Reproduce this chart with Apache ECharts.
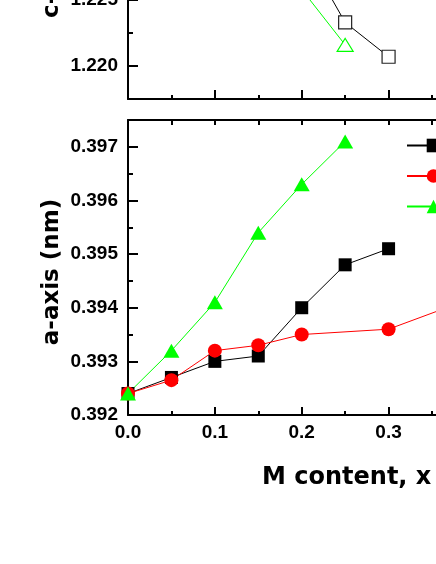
<!DOCTYPE html>
<html>
<head>
<meta charset="utf-8">
<script src="https://cdn.jsdelivr.net/npm/echarts@6/dist/echarts.min.js"></script>
<style>
  html, body { margin: 0; padding: 0; background: #fff; }
  #container { width: 436px; height: 564px; }
</style>
</head>
<body>
<div id="container"></div>
<script>
var dom = document.getElementById("container");
var myChart = echarts.init(dom);

// ---- data ----
// lower panel: a-axis (nm) vs M content
var xBlack = [0, 0.05, 0.1, 0.15, 0.2, 0.25, 0.3];
var aBlack = [0.3924, 0.3927, 0.3930, 0.3931, 0.3940, 0.3948, 0.3951];
var xRed = [0, 0.05, 0.1, 0.15, 0.2, 0.3, 0.4];
var aRed = [0.3924, 0.39265, 0.3932, 0.3933, 0.3935, 0.3936, 0.3942];
var xGreen = [0, 0.05, 0.1, 0.15, 0.2, 0.25];
var aGreen = [0.3924, 0.3932, 0.3941, 0.3954, 0.3963, 0.3971];

// upper panel: c-axis (nm), only the bottom of it is in view
var xTopBlack = [0.2, 0.25, 0.3];
var cBlack = [1.2291, 1.2233, 1.2207];
var xTopGreen = [0.2, 0.25];
var cGreen = [1.2258, 1.2216];

var names = ['M1', 'M2', 'M3'];

// ticks
var xMajor = [0, 0.1, 0.2, 0.3];
var xMinor = [0.05, 0.15, 0.25, 0.35];
var xAll = [0, 0.05, 0.1, 0.15, 0.2, 0.25, 0.3, 0.35];
var aMajor = [0.392, 0.393, 0.394, 0.395, 0.396, 0.397];
var aMinor = [0.3925, 0.3935, 0.3945, 0.3955, 0.3965];
var cMajor = [1.220, 1.225];
var cMinor = [1.2225];

var LABEL_FONT = 'Liberation Sans, Arial, sans-serif';
var TITLE_FONT = 'DejaVu Sans, sans-serif';

function zip(xs, ys) {
    return xs.map(function (x, i) { return [x, ys[i]]; });
}

function axis(grid, pos, min, max, ticks, len, showLine, labels, fmt) {
    return {
        type: 'value',
        gridIndex: grid,
        position: pos,
        min: min,
        max: max,
        axisLine: { show: showLine, onZero: false, lineStyle: { color: '#000', width: 2 } },
        axisTick: { show: true, inside: true, length: len, customValues: ticks,
                    lineStyle: { color: '#000', width: 2 } },
        axisLabel: labels ? {
            show: true, customValues: labels, formatter: fmt, margin: pos === 'left' ? 10 : 8,
            color: '#000', fontFamily: LABEL_FONT, fontWeight: 'bold', fontSize: 19
        } : { show: false },
        splitLine: { show: false }
    };
}

var X_MAX = 0.3546;
function fx(v) { return v.toFixed(1); }
function fy(v) { return v.toFixed(3); }

option = {
    animation: false,
    grid: [
        { left: 128, right: 0, top: 0, height: 99, outerBoundsMode: 'none' },
        { left: 128, right: 0, top: 120, height: 295, outerBoundsMode: 'none' }
    ],
    xAxis: [
        axis(0, 'bottom', 0, X_MAX, xMajor, 9, true),
        axis(0, 'bottom', 0, X_MAX, xMinor, 4, false),
        axis(1, 'bottom', 0, X_MAX, xMajor, 8, true, xMajor, fx),
        axis(1, 'bottom', 0, X_MAX, xMinor, 4, false),
        axis(1, 'top', 0, X_MAX, xAll, 5, true)
    ],
    yAxis: [
        axis(0, 'left', 1.2175, 1.225, cMajor, 10, true, cMajor, fy),
        axis(0, 'left', 1.2175, 1.225, cMinor, 5, false),
        axis(1, 'left', 0.392, 0.3975, aMajor, 10, true, aMajor, fy),
        axis(1, 'left', 0.392, 0.3975, aMinor, 5, false)
    ],
    legend: {
        data: names,
        orient: 'vertical',
        left: 401,
        top: 131,
        itemWidth: 53,
        itemHeight: 17,
        itemGap: 11.5,
        textStyle: { color: '#000', fontFamily: LABEL_FONT, fontWeight: 'bold', fontSize: 19 }
    },
    graphic: [
        { type: 'text', x: 52, y: 272, rotation: Math.PI / 2,
          style: { text: 'a-axis (nm)', font: 'bold 23px ' + TITLE_FONT, fill: '#000',
                   align: 'center', verticalAlign: 'middle', textAlign: 'center', textVerticalAlign: 'middle' } },
        { type: 'text', x: 52, y: 18, rotation: Math.PI / 2,
          style: { text: 'c-axis (nm)', font: 'bold 23px ' + TITLE_FONT, fill: '#000',
                   align: 'left', verticalAlign: 'middle', textAlign: 'left', textVerticalAlign: 'middle' } },
        { type: 'text', x: 262, y: 478,
          style: { text: 'M content, x', font: 'bold 24px ' + TITLE_FONT, fill: '#000',
                   align: 'left', verticalAlign: 'middle', textAlign: 'left', textVerticalAlign: 'middle' } }
    ],
    series: [
        {
            name: 'c-black', type: 'line', xAxisIndex: 0, yAxisIndex: 0,
            data: zip(xTopBlack, cBlack),
            symbol: 'rect', symbolSize: 13,
            lineStyle: { color: '#000', width: 1 },
            itemStyle: { color: '#fff', borderColor: '#222', borderWidth: 1.2 }
        },
        {
            name: 'c-green', type: 'line', xAxisIndex: 0, yAxisIndex: 0,
            data: zip(xTopGreen, cGreen),
            symbol: 'triangle', symbolSize: [16, 13],
            lineStyle: { color: '#00ff00', width: 1 },
            itemStyle: { color: '#fff', borderColor: '#00ff00', borderWidth: 1.2 }
        },
        {
            name: names[0], type: 'line', xAxisIndex: 2, yAxisIndex: 2,
            data: zip(xBlack, aBlack),
            symbol: 'rect', symbolSize: 13,
            lineStyle: { color: '#000', width: 1 },
            itemStyle: { color: '#000' }
        },
        {
            name: names[1], type: 'line', xAxisIndex: 2, yAxisIndex: 2,
            data: zip(xRed, aRed),
            symbol: 'circle', symbolSize: 14,
            lineStyle: { color: '#ff0000', width: 1 },
            itemStyle: { color: '#ff0000' }
        },
        {
            name: names[2], type: 'line', xAxisIndex: 2, yAxisIndex: 2,
            data: zip(xGreen, aGreen),
            symbol: 'triangle', symbolSize: [16, 14],
            lineStyle: { color: '#00ff00', width: 1 },
            itemStyle: { color: '#00ff00' }
        }
    ]
};

if (option && typeof option === "object") {
    myChart.setOption(option, true);
}
</script>
</body>
</html>
